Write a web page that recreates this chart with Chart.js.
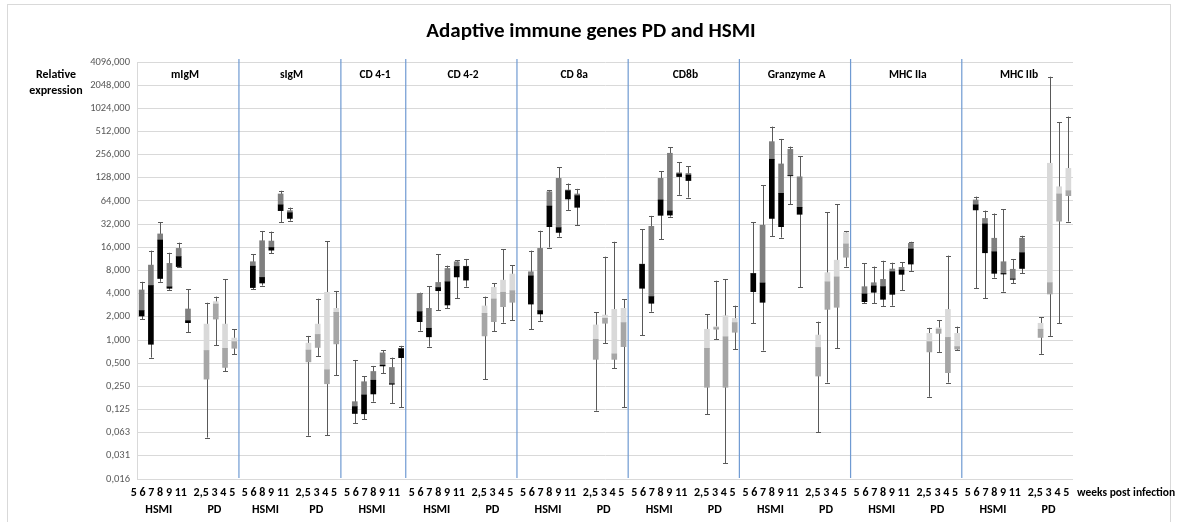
<!DOCTYPE html>
<html><head><meta charset="utf-8">
<script src="https://cdn.jsdelivr.net/npm/chart.js@4.4.1/dist/chart.umd.min.js"></script>
<style>html,body{margin:0;padding:0;background:#fff;}#wrap{width:1178px;height:522px;position:relative;}</style>
</head><body><div id="wrap"><canvas id="c" width="1178" height="522"></canvas></div>
<script>
// ---------- texts ----------
const chartTitle = 'Adaptive immune genes PD and HSMI';
const yAxisTitle = ['Relative', 'expression'];
const xAxisNote = 'weeks post infection';
const geneNames = ['mIgM', 'sIgM', 'CD 4-1', 'CD 4-2', 'CD 8a', 'CD8b', 'Granzyme A', 'MHC IIa', 'MHC IIb'];
const hsmiWeeks = ['5', '6', '7', '8', '9', '11'];
const hsmiWeeksSIgM = ['5', '6', '8', '9', '11'];
const pdWeeks = ['2,5', '3', '4', '5'];
const yTickValues = [0.015625, 0.03125, 0.0625, 0.125, 0.25, 0.5, 1, 2, 4, 8, 16, 32, 64, 128, 256, 512, 1024, 2048, 4096];

// ---------- values: [min, Q1, median, Q3, max] ----------
const mIgM_HSMI = [[1.87,2.05,2.41,4.47,5.7],[0.59,0.88,5.1,9.4,14.5],[5.7,6.3,19.9,23.9,33.8],[4.5,4.7,4.9,9.9,13.6],[8.8,9.0,12.1,15.5,18.4],[1.26,1.68,1.78,2.53,4.55]];
const mIgM_PD = [[0.054,0.31,0.73,1.61,3.05],[0.86,1.87,2.93,3.15,3.66],[0.39,0.44,0.78,1.61,6.2],[0.65,0.78,0.95,1.06,1.38]];
const sIgM_HSMI = [[4.55,4.8,9.1,10.4,13.1],[5.1,5.5,6.5,19.5,26.1],[13.4,14.7,15.9,19.3,25.6],[33.8,48,57,79,87],[35.5,38,45,48,52.5]];
const sIgM_PD = [[0.057,0.52,0.74,0.91,1.13],[0.62,0.80,1.18,1.61,3.44],[0.058,0.27,0.41,4.17,19.3],[0.35,0.89,2.29,2.58,4.34]];
const CD41_HSMI = [[0.083,0.111,0.136,0.158,0.55],[0.093,0.11,0.193,0.287,0.34],[0.158,0.199,0.30,0.39,0.46],[0.37,0.46,0.47,0.68,0.74],[0.15,0.266,0.27,0.44,0.59],[0.133,0.59,0.77,0.78,0.84]];
const CD42_HSMI = [[1.32,1.73,2.33,4.03,4.12],[0.82,1.1,1.42,2.58,5.0],[2.45,4.37,4.8,5.6,13.1],[2.58,2.85,5.7,8.5,9.25],[3.48,6.6,9.0,10.4,10.9],[4.93,6.0,9.0,9.1,11.3]];
const CD42_PD = [[0.31,1.13,2.22,2.77,3.66],[1.31,1.73,3.41,4.83,5.45],[1.68,2.71,4.17,6.0,15.1],[1.82,3.09,4.37,7.2,9.4]];
const CD8a_HSMI = [[1.39,2.93,6.8,7.7,14.5],[1.78,2.18,2.41,15.5,26.3],[15.9,29.7,55,84.5,89],[22,25,28.8,126,175],[49,68,87,89,108],[31,53,75,79,92]];
const CD8a_PD = [[0.121,0.56,1.02,1.57,2.29],[0.91,1.65,1.91,2.11,12.1],[0.43,0.56,0.66,2.5,18.9],[0.133,0.82,1.68,2.58,3.41]];
const CD8b_HSMI = [[1.16,4.7,9.6,9.7,27.4],[2.33,3.0,3.66,30,41],[20.4,41.7,66,126,157],[40,42,47.5,267,319],[77,133,144,149,204],[71,118,139,146,182]];
const CD8b_PD = [[0.108,0.243,0.78,1.38,2.16],[1.03,1.38,1.45,1.49,5.9],[0.025,0.243,1.1,2.07,6.2],[0.76,1.26,1.68,1.91,2.79]];
const GrzA_HSMI = [[1.65,4.25,7.3,7.35,33.8],[0.73,3.09,5.5,31,103],[22.5,38,223,378,592],[21.4,29.7,80.5,194,410],[58,136,137,300,326],[4.83,43,53,132,246]];
const GrzA_PD = [[0.063,0.34,0.8,1.16,1.73],[0.28,2.5,5.7,7.5,45.6],[0.78,2.66,6.6,10.9,58.5],[9.0,11.9,17.7,24.8,26.1]];
const MHCIIa_HSMI = [[3.0,3.15,3.97,4.93,9.9],[3.0,4.17,5.03,5.55,9.0],[2.77,3.38,4.93,6.14,10.7],[2.79,3.92,7.7,8.36,10.1],[4.47,7.13,8.1,8.8,10.2],[7.9,9.7,15.2,18,18.9]];
const MHCIIa_PD = [[0.183,0.7,0.95,1.22,1.44],[0.7,1.22,1.38,1.44,1.82],[0.28,0.376,1.08,2.5,12.5],[0.74,0.76,0.82,1.22,1.49]];
const MHCIIb_HSMI = [[4.7,49,57,66,73],[3.48,13.6,32.2,38,48],[6.45,7.35,14,21,44],[4.25,7.2,7.3,10.4,50],[5.46,6.15,6.2,8.3,11.3],[7.35,8.5,13.6,21,22.6]];
const MHCIIb_PD = [[0.66,1.08,1.38,1.65,1.97],[1.13,3.96,5.55,198,2640],[1.65,35,79,98,676],[34.5,75,87,170,800]];

// ---------- build table ----------
const groupTable = [
  [hsmiWeeks, mIgM_HSMI, mIgM_PD],
  [hsmiWeeksSIgM, sIgM_HSMI, sIgM_PD],
  [hsmiWeeks, CD41_HSMI, null],
  [hsmiWeeks, CD42_HSMI, CD42_PD],
  [hsmiWeeks, CD8a_HSMI, CD8a_PD],
  [hsmiWeeks, CD8b_HSMI, CD8b_PD],
  [hsmiWeeks, GrzA_HSMI, GrzA_PD],
  [hsmiWeeks, MHCIIa_HSMI, MHCIIa_PD],
  [hsmiWeeks, MHCIIb_HSMI, MHCIIb_PD]
];
const labels = [], stats = [], kinds = [], groupSlots = [];
groupTable.forEach((g, gi) => {
  if (gi > 0) { labels.push(''); stats.push(null); kinds.push(null); }
  const info = { name: geneNames[gi], gs: labels.length };
  info.hs = labels.length;
  g[0].forEach((w, i) => { labels.push(w); stats.push(g[1][i]); kinds.push('H'); });
  info.he = labels.length - 1; info.hw = g[0];
  if (g[2]) {
    labels.push(''); stats.push(null); kinds.push(null);
    info.ps = labels.length;
    pdWeeks.forEach((w, i) => { labels.push(w); stats.push(g[2][i]); kinds.push('P'); });
    info.pe = labels.length - 1;
  }
  info.ge = labels.length - 1;
  groupSlots.push(info);
});

const colH_low = '#000000', colH_up = '#7f7f7f', colP_low = '#a6a6a6', colP_up = '#d9d9d9';
const lowerData = stats.map(s => s ? [s[1], s[2]] : null);
const upperData = stats.map(s => s ? [s[2], s[3]] : null);
const lowerCol = kinds.map(k => k === 'P' ? colP_low : colH_low);
const upperCol = kinds.map(k => k === 'P' ? colP_up : colH_up);

const FONT = 'Carlito, Lato, "Liberation Sans", sans-serif';

const deco = {
  id: 'deco',
  beforeDatasetsDraw(chart) {
    const ctx = chart.ctx, xs = chart.scales.x, ys = chart.scales.y, ca = chart.chartArea;
    ctx.save();
    ctx.strokeStyle = '#6f9ad2'; ctx.lineWidth = 1.2;
    groupSlots.forEach((g, i) => {
      if (i === groupSlots.length - 1) return;
      const xp = (xs.getPixelForValue(g.ge) + xs.getPixelForValue(g.ge + 1)) / 2;
      ctx.beginPath(); ctx.moveTo(xp, ca.top - 3); ctx.lineTo(xp, ca.bottom - 1); ctx.stroke();
    });
    ctx.strokeStyle = '#595959'; ctx.lineWidth = 1;
    stats.forEach((s, i) => {
      if (!s) return;
      const xp = Math.round(xs.getPixelForValue(i)) + 0.5;
      const y0 = ys.getPixelForValue(s[0]), y1 = ys.getPixelForValue(s[4]);
      ctx.beginPath();
      ctx.moveTo(xp, y0); ctx.lineTo(xp, y1);
      ctx.moveTo(xp - 2.5, Math.round(y0) + 0.5); ctx.lineTo(xp + 2.5, Math.round(y0) + 0.5);
      ctx.moveTo(xp - 2.5, Math.round(y1) + 0.5); ctx.lineTo(xp + 2.5, Math.round(y1) + 0.5);
      ctx.stroke();
    });
    ctx.restore();
  },
  afterDraw(chart) {
    const ctx = chart.ctx, xs = chart.scales.x, ca = chart.chartArea;
    ctx.save();
    ctx.strokeStyle = '#d9d9d9'; ctx.lineWidth = 1;
    ctx.strokeRect(7.5, 4.5, 1163, 540);
    ctx.fillStyle = '#000';
    ctx.textAlign = 'center'; ctx.textBaseline = 'middle';
    ctx.font = 'bold 21px ' + FONT;
    ctx.fillText(chartTitle, 591, 32);
    ctx.font = 'bold 12px ' + FONT;
    ctx.fillText(yAxisTitle[0], 56, 75);
    ctx.fillText(yAxisTitle[1], 56, 91);
    groupSlots.forEach((g, i) => {
      const l = i === 0 ? ca.left : (xs.getPixelForValue(g.gs - 1) + xs.getPixelForValue(g.gs)) / 2;
      const r = i === groupSlots.length - 1 ? ca.right : (xs.getPixelForValue(g.ge) + xs.getPixelForValue(g.ge + 1)) / 2;
      ctx.font = 'bold 11.5px ' + FONT;
      ctx.fillText(g.name, (l + r) / 2 - 3, 75);
      ctx.font = 'bold 12px ' + FONT;
      const hc = (xs.getPixelForValue(g.hs) + xs.getPixelForValue(g.he)) / 2 - 6;
      ctx.fillText(g.hw.join(' '), hc, 493);
      ctx.fillText('HSMI', hc, 510);
      if (g.ps !== undefined) {
        const pc = (xs.getPixelForValue(g.ps) + xs.getPixelForValue(g.pe)) / 2 - 6;
        ctx.fillText(pdWeeks.join(' '), pc, 493);
        ctx.fillText('PD', pc, 510);
      }
    });
    ctx.textAlign = 'left';
    ctx.font = 'bold 11.5px ' + FONT;
    ctx.fillText(xAxisNote, 1077, 493);
    ctx.restore();
  }
};

new Chart(document.getElementById('c'), {
  type: 'bar',
  data: {
    labels: labels,
    datasets: [
      { data: lowerData, backgroundColor: lowerCol, borderWidth: 0, barThickness: 5, grouped: false },
      { data: upperData, backgroundColor: upperCol, borderWidth: 0, barThickness: 5, grouped: false }
    ]
  },
  options: {
    responsive: false, animation: false, devicePixelRatio: 1,
    layout: { padding: { top: 62, right: 105, bottom: 43, left: 0 } },
    plugins: { legend: { display: false }, tooltip: { enabled: false } },
    scales: {
      x: { display: false, offset: true },
      y: {
        type: 'logarithmic',
        min: yTickValues[0], max: yTickValues[yTickValues.length - 1],
        afterBuildTicks: s => { s.ticks = yTickValues.map(v => ({ value: v })); },
        afterFit: s => { s.width = 137; },
        ticks: {
          callback: v => Number(v).toFixed(3).replace('.', ','),
          font: { family: FONT, size: 10.5 }, color: '#595959', padding: 7, autoSkip: false
        },
        grid: { color: '#d9d9d9', lineWidth: 1, drawTicks: false },
        border: { color: '#d9d9d9' }
      }
    }
  },
  plugins: [deco]
});
</script>
</body></html>
